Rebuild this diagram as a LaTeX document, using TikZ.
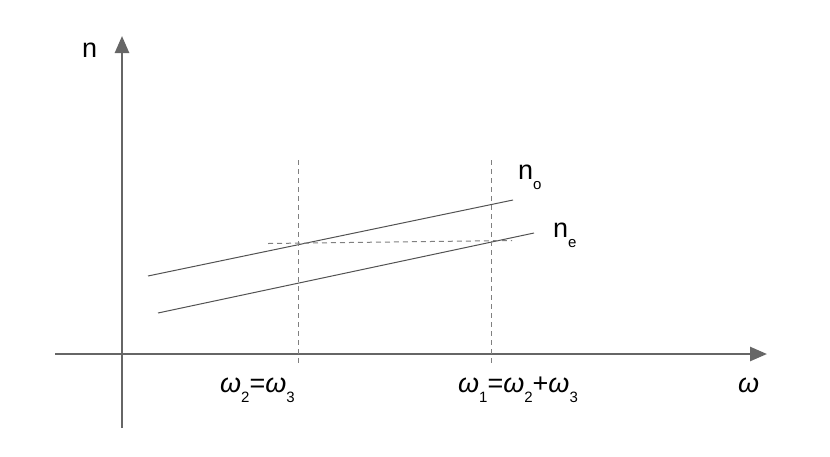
\documentclass[tikz,border=0pt]{standalone}
\usepackage{fontspec}
\setmainfont{Liberation Sans}
\usetikzlibrary{positioning,arrows.meta}

\newcommand{\lowidx}[1]{\raisebox{-10pt}{\fontsize{15}{15}\selectfont #1}}
\newcommand{\om}{\textit{ω}}

\begin{document}
\begin{tikzpicture}[x=1pt, y=-1pt,
  axis/.style={draw=black!60, line width=2.6pt, -{Triangle[length=17pt, width=14pt]}},
  curve/.style={draw=black!68, line width=1pt},
  guide/.style={draw=black!50, line width=1pt, dash pattern=on 5pt off 4pt},
  lbl/.style={font=\fontsize{27}{30}\selectfont, inner sep=0pt, anchor=base west}]
\useasboundingbox (0,0) rectangle (830,456);
% axes
\coordinate (ybot) at (122,428); \coordinate (ytop) at (122,36);
\coordinate (xleft) at (55,354); \coordinate (xright) at (767,354);
\draw[axis] (ybot) -- (ytop);
\draw[axis] (xleft) -- (xright);
\node[lbl] (nlab) at (82,57) {n};
\node[lbl] (wlab) at (738,392) {\om};
% index lines
\coordinate (o1) at (148,276); \coordinate (o2) at (513,200);
\coordinate (e1) at (158,313); \coordinate (e2) at (534,233);
\draw[curve] (o1) -- (o2);
\draw[curve] (e1) -- (e2);
\node[lbl] (no) at (518,179) {n\lowidx{o}};
\node[lbl] (ne) at (553,237) {n\lowidx{e}};
% frequencies
\coordinate (w2top) at (298,160); \coordinate (w2bot) at (298,365);
\coordinate (w1top) at (491,160); \coordinate (w1bot) at (491,365);
\draw[guide] (w2top) -- (w2bot);
\draw[guide] (w1top) -- (w1bot);
\coordinate (h1) at (268,243.5); \coordinate (h2) at (512,240.5);
\draw[guide] (h1) -- (h2);
\node[lbl] (w23) at (220,392) {\om\lowidx{2}=\om\lowidx{3}};
\node[lbl] (w123) at (458,392) {\om\lowidx{1}=\om\lowidx{2}+\om\lowidx{3}};
\end{tikzpicture}
\end{document}
